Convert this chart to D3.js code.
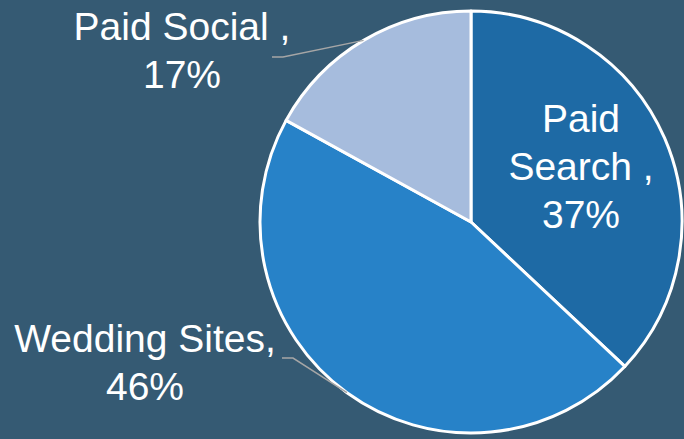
<!DOCTYPE html>
<html>
<head>
<meta charset="utf-8">
<script src="https://cdn.jsdelivr.net/npm/d3@7"></script>
<style>
  html, body { margin: 0; padding: 0; background: #355a73; }
  svg { display: block; }
  text { font-family: "Liberation Sans", Arial, sans-serif; fill: #ffffff; }
</style>
</head>
<body>
<svg id="chart" width="684" height="439"></svg>
<script>
// Channel share data
const categories = ["Paid Search", "Wedding Sites", "Paid Social"];
const shares = [37, 46, 17];
const labelLines = [["Paid", "Search ,"], ["Wedding Sites,"], ["Paid Social ,"]];
const colors = ["#1e6aa5", "#2782c8", "#a6bcdd"];

const W = 684, H = 439;
const cx = 471, cy = 222, R = 211;

const svg = d3.select("#chart");
svg.append("rect").attr("width", W).attr("height", H).attr("fill", "#355a73");

const pie = d3.pie().sort(null).value(d => d.value);
const arcs = pie(categories.map((c, i) => ({ name: c, value: shares[i], lines: labelLines[i], color: colors[i] })));
const arc = d3.arc().innerRadius(0).outerRadius(R);

const g = svg.append("g").attr("transform", `translate(${cx},${cy})`);

g.selectAll("path.slice")
  .data(arcs)
  .join("path")
  .attr("class", "slice")
  .attr("d", arc)
  .attr("fill", d => d.data.color)
  .attr("stroke", "#ffffff")
  .attr("stroke-width", 3)
  .attr("stroke-linejoin", "round");

// Label placement: inside for the first slice, outside with leader lines for the others
const lineH = 48;
const labelPos = {
  "Paid Search": { x: 581, y: 132, inside: true },
  "Wedding Sites": { x: 145, y: 352, elbow: [282, 293, 358] },
  "Paid Social": { x: 182, y: 40, elbow: [272, 283, 57] }
};

arcs.forEach(d => {
  const p = labelPos[d.data.name];
  const lines = d.data.lines.concat([d.data.value + "%"]);
  const t = svg.append("text")
    .attr("text-anchor", "middle")
    .attr("font-size", 39);
  lines.forEach((ln, i) => {
    t.append("tspan").attr("x", p.x).attr("y", p.y + i * lineH).text(ln);
  });
  if (!p.inside) {
    const mid = (d.startAngle + d.endAngle) / 2;
    const ex = cx + R * Math.sin(mid);
    const ey = cy - R * Math.cos(mid);
    const [x0, x1, y0] = p.elbow;
    svg.append("path")
      .attr("d", `M${x0},${y0}L${x1},${y0}L${ex},${ey}`)
      .attr("fill", "none")
      .attr("stroke", "#a6a6a6")
      .attr("stroke-width", 1.5);
  }
});
</script>
</body>
</html>
